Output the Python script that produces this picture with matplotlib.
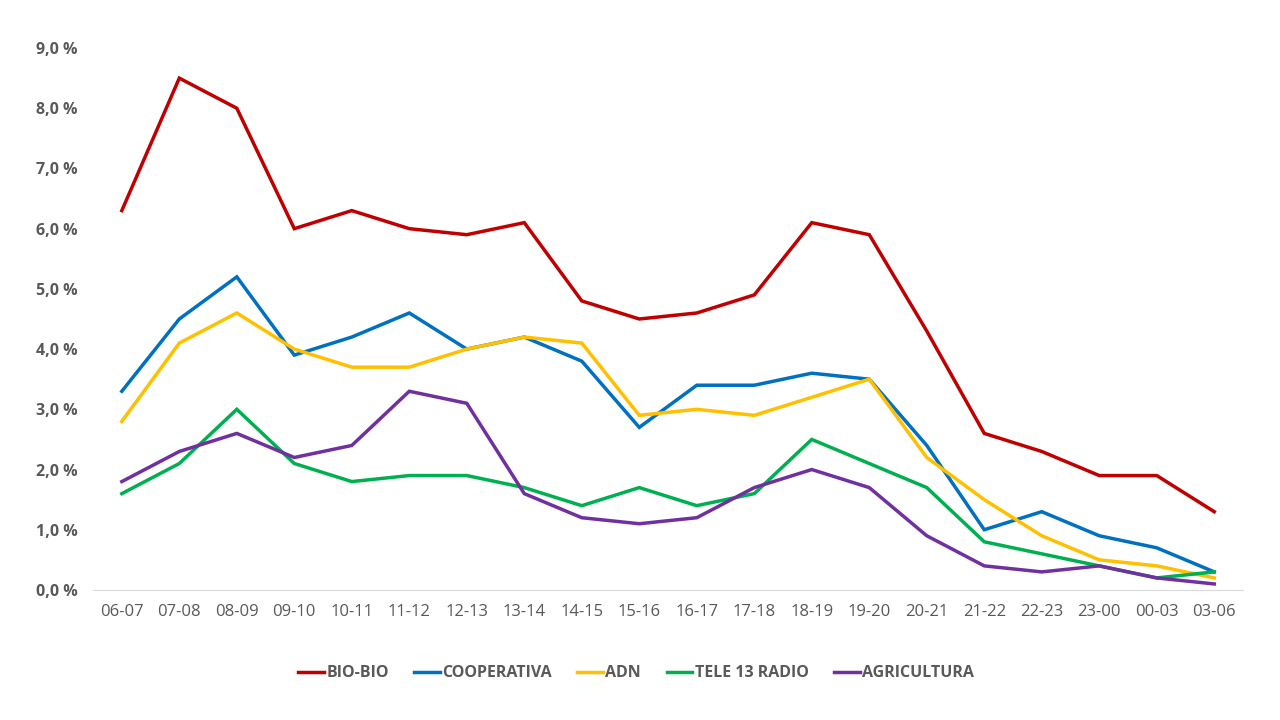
import matplotlib
matplotlib.use("Agg")
import matplotlib.pyplot as plt
from matplotlib.ticker import FuncFormatter

plt.rcParams['font.family'] = ['Open Sans', 'DejaVu Sans']

franjas = ["06-07", "07-08", "08-09", "09-10", "10-11", "11-12", "12-13", "13-14", "14-15", "15-16",
           "16-17", "17-18", "18-19", "19-20", "20-21", "21-22", "22-23", "23-00", "00-03", "03-06"]

bio_bio = [6.3, 8.5, 8.0, 6.0, 6.3, 6.0, 5.9, 6.1, 4.8, 4.5, 4.6, 4.9, 6.1, 5.9, 4.3, 2.6, 2.3, 1.9, 1.9, 1.3]
cooperativa = [3.3, 4.5, 5.2, 3.9, 4.2, 4.6, 4.0, 4.2, 3.8, 2.7, 3.4, 3.4, 3.6, 3.5, 2.4, 1.0, 1.3, 0.9, 0.7, 0.3]
adn = [2.8, 4.1, 4.6, 4.0, 3.7, 3.7, 4.0, 4.2, 4.1, 2.9, 3.0, 2.9, 3.2, 3.5, 2.2, 1.5, 0.9, 0.5, 0.4, 0.2]
tele13 = [1.6, 2.1, 3.0, 2.1, 1.8, 1.9, 1.9, 1.7, 1.4, 1.7, 1.4, 1.6, 2.5, 2.1, 1.7, 0.8, 0.6, 0.4, 0.2, 0.3]
agricultura = [1.8, 2.3, 2.6, 2.2, 2.4, 3.3, 3.1, 1.6, 1.2, 1.1, 1.2, 1.7, 2.0, 1.7, 0.9, 0.4, 0.3, 0.4, 0.2, 0.1]

series = [
    ("BIO-BIO", bio_bio, "#C00000"),
    ("COOPERATIVA", cooperativa, "#0070C0"),
    ("ADN", adn, "#FFC000"),
    ("TELE 13 RADIO", tele13, "#00B050"),
    ("AGRICULTURA", agricultura, "#7030A0"),
]

fig = plt.figure(figsize=(12.8, 7.2), dpi=100)
ax = fig.add_axes([0.0727, 0.1806, 0.8984, 0.7527])

x = list(range(len(franjas)))
for nombre, vals, col in series:
    ax.plot(x, vals, color=col, linewidth=2.5, label=nombre, solid_joinstyle="miter")

ax.set_xlim(-0.5, len(franjas) - 0.5)
ax.set_ylim(0, 9)
ax.set_yticks([i for i in range(10)])
ax.yaxis.set_major_formatter(FuncFormatter(lambda v, p: ("%.1f %%" % v).replace(".", ",")))
ax.set_xticks(x)
ax.set_xticklabels(franjas)

for s in ["top", "right", "left"]:
    ax.spines[s].set_visible(False)
ax.spines["bottom"].set_color("#D9D9D9")
ax.tick_params(axis="both", length=0, colors="#595959")
ax.tick_params(axis="x", pad=10, labelsize=12)
ax.tick_params(axis="y", pad=11, labelsize=11.5)
for lab in ax.get_yticklabels():
    lab.set_fontweight("bold")

leg = fig.legend(loc="center", bbox_to_anchor=(0.497, 0.065), ncol=5, frameon=False,
                 prop={"family": ["Liberation Sans Narrow", "Open Sans"], "size": 11.5, "weight": "bold"},
                 handlelength=1.6, columnspacing=1.6, handletextpad=0.15)
for t in leg.get_texts():
    t.set_color("#595959")

fig.savefig("out.png", dpi=100, facecolor="white")
